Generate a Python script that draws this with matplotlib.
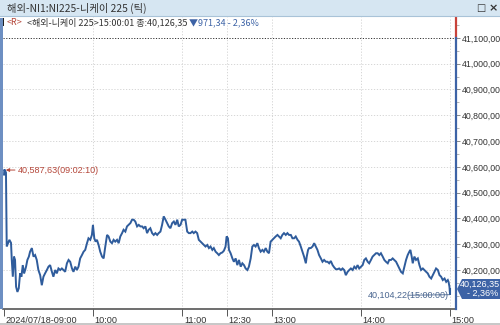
import matplotlib
matplotlib.use("Agg")
import matplotlib.pyplot as plt
from matplotlib.patches import Rectangle, Polygon
import matplotlib.transforms as mtransforms

plt.rcParams['font.family'] = ['Noto Sans CJK KR', 'DejaVu Sans']

# ---------------- data ----------------
# session minutes: 0 = 09:00, 150 = 11:30/12:30 (lunch break collapsed), 300 = 15:00
minutes = [0, 0.2, 1.3, 1.8, 3.6, 4.7, 5.2, 5.9, 6.7, 7.4, 8.1, 9.0, 9.9, 10.8, 11.7, 12.6, 13.5, 14.2, 14.8,
           15.7, 16.7, 17.5, 18.7, 19.8, 20.9, 22.0, 23.1, 24.3, 25.4, 26.5, 27.6, 28.8, 29.9, 31.0, 32.2,
           33.2, 34.4, 35.5, 36.6, 37.8, 38.9, 40.0, 41.1, 42.3, 43.4, 44.5, 45.7, 46.7, 47.9, 49.0, 50.1,
           51.2, 52.4, 53.5, 54.6, 55.8, 56.8, 58.0, 59.1, 59.8, 60.7, 61.6, 62.5, 63.6, 64.7, 65.9, 67.0,
           68.1, 69.3, 70.3, 71.5, 72.6, 73.7, 74.8, 76.0, 77.1, 78.2, 79.4, 80.4, 81.6, 82.7, 83.8, 85.0,
           86.1, 87.2, 88.3, 89.5, 90.6, 91.7, 92.9, 93.9, 95.1, 96.2, 97.3, 98.4, 99.6, 100.7, 101.8, 103.0,
           104.0, 105.2, 106.3, 107.4, 108.6, 109.7, 110.8, 111.9, 113.1, 114.2, 115.3, 116.5, 117.5, 118.7,
           119.8, 120.9, 122.0, 123.2, 124.3, 125.4, 126.6, 127.6, 128.8, 129.9, 131.0, 132.2, 133.3, 134.4,
           135.5, 136.7, 137.8, 138.9, 140.1, 141.1, 142.3, 143.4, 144.5, 145.6, 146.8, 147.9, 149.0, 149.7,
           150.6, 151.3, 152.4, 153.6, 154.6, 155.8, 156.9, 158.0, 159.2, 160.3, 161.4, 162.5, 163.7, 164.7,
           165.9, 167.0, 168.1, 169.2, 170.4, 171.5, 172.6, 173.8, 174.8, 176.0, 177.1, 178.2, 179.3, 180.5,
           181.6, 182.7, 183.9, 184.9, 186.1, 187.2, 188.3, 189.5, 190.6, 191.7, 192.9, 194.0, 195.1, 196.2,
           197.4, 198.4, 199.6, 200.7, 201.8, 203.0, 203.6, 204.5, 205.2, 206.3, 207.5, 208.6, 209.7, 210.8,
           211.9, 213.1, 214.2, 215.3, 216.5, 217.6, 218.7, 219.8, 221.0, 222.1, 223.2, 224.3, 225.4, 226.6,
           227.7, 228.8, 229.9, 231.1, 232.2, 233.3, 234.5, 235.6, 236.7, 237.8, 238.9, 240.1, 241.2, 242.3,
           243.4, 244.6, 245.6, 246.8, 247.9, 249.0, 250.2, 251.3, 252.4, 253.5, 254.7, 255.8, 256.9, 258.1,
           259.1, 260.3, 261.4, 262.5, 263.7, 264.8, 265.9, 267.0, 268.2, 269.3, 270.4, 271.5, 272.6, 273.3,
           274.2, 274.9, 276.0, 277.1, 278.3, 279.4, 280.5, 281.7, 282.7, 283.9, 285.0, 286.1, 287.3, 288.4,
           289.5, 290.6, 291.8, 292.9, 294.0, 295.1, 296.3, 297.4, 298.5, 299.0, 299.6, 300.0, 300.02]
prices = [40570, 40590, 40578, 40291, 40317, 40305, 40239, 40174, 40252, 40239, 40135, 40115, 40129, 40187,
          40174, 40219, 40187, 40200, 40213, 40239, 40252, 40271, 40285, 40252, 40258, 40239, 40200, 40180,
          40141, 40174, 40187, 40200, 40213, 40219, 40193, 40174, 40200, 40187, 40206, 40200, 40206, 40200,
          40193, 40226, 40239, 40232, 40206, 40193, 40213, 40200, 40213, 40245, 40258, 40271, 40278, 40304,
          40323, 40317, 40336, 40375, 40323, 40310, 40317, 40297, 40271, 40252, 40245, 40291, 40336, 40330,
          40310, 40304, 40317, 40310, 40317, 40304, 40330, 40343, 40356, 40349, 40369, 40375, 40382, 40395,
          40395, 40388, 40369, 40375, 40369, 40369, 40362, 40369, 40343, 40356, 40362, 40343, 40336, 40343,
          40336, 40343, 40349, 40375, 40408, 40395, 40382, 40369, 40362, 40382, 40388, 40375, 40395, 40369,
          40375, 40395, 40395, 40395, 40349, 40343, 40343, 40349, 40343, 40349, 40343, 40317, 40310, 40304,
          40297, 40291, 40297, 40285, 40291, 40278, 40285, 40271, 40265, 40258, 40265, 40268, 40275, 40291,
          40330, 40323, 40278, 40265, 40245, 40232, 40245, 40219, 40239, 40213, 40226, 40219, 40206, 40200,
          40213, 40245, 40291, 40297, 40291, 40304, 40284, 40271, 40278, 40271, 40285, 40271, 40265, 40310,
          40317, 40323, 40330, 40336, 40330, 40323, 40336, 40343, 40336, 40343, 40336, 40336, 40323, 40323,
          40330, 40317, 40310, 40291, 40271, 40252, 40226, 40252, 40278, 40285, 40285, 40291, 40304, 40291,
          40278, 40258, 40245, 40232, 40239, 40232, 40232, 40226, 40235, 40219, 40210, 40203, 40203, 40206,
          40200, 40206, 40200, 40180, 40193, 40200, 40206, 40200, 40213, 40206, 40219, 40206, 40213, 40219,
          40239, 40245, 40232, 40226, 40239, 40252, 40258, 40265, 40265, 40258, 40265, 40252, 40239, 40232,
          40226, 40239, 40239, 40245, 40239, 40232, 40219, 40206, 40193, 40187, 40213, 40239, 40258, 40271,
          40278, 40252, 40226, 40252, 40239, 40245, 40219, 40200, 40206, 40200, 40193, 40187, 40174, 40167,
          40180, 40193, 40206, 40200, 40180, 40174, 40161, 40167, 40154, 40161, 40154, 40135, 40104.22,
          40126.35]

tick_minutes = [0, 60, 120, 150, 180, 240, 300]
tick_labels = ["2024/07/18-09:00", "10:00", "11:00", "12:30", "13:00", "14:00", "15:00"]
y_ticks = [40200, 40300, 40400, 40500, 40600, 40700, 40800, 40900, 41000, 41100]
prev_close = 41097.69
last_price = 40126.35
high_price, high_time = 40587.63, "09:02:10"
low_price, low_time = 40104.22, "15:00:00"

W, H = 500, 325
LINE = "#2f5c9c"
BLUE = "#3d63a6"
RED = "#b5473a"
NUMFONT = ["Liberation Sans", "DejaVu Sans"]

fig = plt.figure(figsize=(5, 3.25), dpi=100)
fig.patch.set_facecolor("white")

def fx(px):
    return px / W

def fy(py):
    return 1 - py / H

# title bar
fig.patches.append(Rectangle((0, fy(16)), 1, 16 / H, transform=fig.transFigure,
                             facecolor="#d6e6f2", edgecolor="none", zorder=0))
fig.add_artist(plt.Line2D([0, 1], [fy(16), fy(16)], transform=fig.transFigure, color="#a9c3d8", lw=0.8))
fig.text(fx(7), fy(8), "해외-NI1:NI225-니케이 225 (틱)", fontsize=7.4, color="#333333", va="center", ha="left")
fig.text(fx(481), fy(8), "□", fontsize=7, color="#333333", va="center", ha="center",
         family=["DejaVu Sans"])
fig.text(fx(493), fy(8), "×", fontsize=8, color="#333333", va="center", ha="center",
         family=["DejaVu Sans"], fontweight="bold")

ax = fig.add_axes([fx(3), fy(309), fx(456) - fx(3), fy(17) - fy(309)])
ax.set_facecolor("white")
ax.plot(minutes, prices, color=LINE, lw=1.4, solid_joinstyle="miter", zorder=3)

ax.set_xlim(-0.7, 304)
ax.set_ylim(40048.8, 41181)

# grid
for t in tick_minutes[1:]:
    ax.axvline(t, color="#d0d0d0", lw=0.6, ls=(0, (1.5, 2)), zorder=1)
for v in y_ticks[:-1]:
    ax.axhline(v, color="#d0d0d0", lw=0.6, ls=(0, (1.5, 2)), zorder=1)
ax.axhline(prev_close, color="#333333", lw=0.7, ls=(0, (1.2, 1.6)), zorder=2)

# spines
for s in ["top", "left", "right"]:
    ax.spines[s].set_visible(False)
ax.spines["bottom"].set_color("#555555")
ax.spines["bottom"].set_linewidth(1.2)
trans = mtransforms.blended_transform_factory(ax.transAxes, ax.transData)
ax.plot([1, 1], [prev_close, 41181], transform=trans, color="#c8423a", lw=1.6, clip_on=False, zorder=5)
ax.plot([1, 1], [40048.8, prev_close], transform=trans, color=BLUE, lw=1.6, clip_on=False, zorder=5)

# x ticks
ax.set_xticks(tick_minutes)
ax.set_xticklabels(tick_labels, ha="left", fontsize=6.6, color="#333333", family=NUMFONT)
ax.tick_params(axis="x", direction="out", length=5, width=0.7, color="#555555", pad=0)
offset = mtransforms.ScaledTranslation(1.5 / 100, 0, fig.dpi_scale_trans)
for lab in ax.get_xticklabels():
    lab.set_transform(lab.get_transform() + offset)

# y ticks on right
ax.yaxis.tick_right()
ax.set_yticks(y_ticks)
ax.set_yticklabels([f"{v:,},00" for v in y_ticks], fontsize=6.3, color="#333333", family=NUMFONT)
ax.set_yticks([v + 50 for v in y_ticks[:-1]] + [40150, 40100, 41150], minor=True)
ax.tick_params(axis="y", which="major", direction="out", length=3, width=0.6, color="#777777", pad=1)
ax.tick_params(axis="y", which="minor", direction="out", length=2, width=0.5, color="#999999")

# second header line
fig.patches.append(Rectangle((fx(2), fy(26)), 2 / W, 8 / H, transform=fig.transFigure,
                             facecolor="#222222", edgecolor="none"))
fig.text(fx(7), fy(22.5), "<R>", fontsize=6.5, color=RED, va="center", ha="left")
fig.text(fx(27), fy(22.5), "<해외-니케이 225>15:00:01 종:40,126,35", fontsize=6.5, color="#333333",
         va="center", ha="left")
fig.text(fx(189), fy(22.5), "▼971,34 - 2,36%", fontsize=6.5, color=BLUE, va="center", ha="left")

# high annotation
ax.annotate(f"40,587,63({high_time})", xy=(0.25, high_price), xytext=(9.2, high_price),
            fontsize=6.5, color=RED, va="center", ha="left", family=NUMFONT,
            arrowprops=dict(arrowstyle="-|>", color=RED, lw=0.7, mutation_scale=5,
                            shrinkA=0, shrinkB=1))

# low annotation
ax.annotate(f"40,104,22({low_time})", xy=(300, low_price), xytext=(299, low_price - 2),
            fontsize=6.5, color="#4a6690", va="center", ha="right", family=NUMFONT,
            arrowprops=dict(arrowstyle="-", color="#4a6690", lw=0.6, shrinkA=0, shrinkB=0))

# current price box
cy = ax.transData.transform((0, last_price))
cy_fig = fig.transFigure.inverted().transform(cy)[1]
h2 = 10 / H
poly = Polygon([[fx(457), cy_fig], [fx(462), cy_fig + h2], [1, cy_fig + h2], [1, cy_fig - h2],
                [fx(462), cy_fig - h2]], closed=True, transform=fig.transFigure,
               facecolor=BLUE, edgecolor="none", zorder=10)
fig.add_artist(poly)
fig.text(fx(460), cy_fig + 4.5 / H, "40,126,35", fontsize=6.5, color="white", va="center", ha="left",
         family=NUMFONT, zorder=11)
fig.text(fx(467), cy_fig - 4.5 / H, "- 2,36%", fontsize=6.5, color="white", va="center", ha="left",
         family=NUMFONT, zorder=11)

# left frame bar and bottom line
fig.patches.append(Rectangle((0, fy(309)), fx(3), fy(18) - fy(309), transform=fig.transFigure,
                             facecolor="#6d8fc2", edgecolor="none", zorder=4))
fig.patches.append(Rectangle((0, 0), 1, 2.5 / H, transform=fig.transFigure,
                             facecolor="#c8c8c8", edgecolor="none", zorder=4))

fig.savefig("out.png", dpi=100)
